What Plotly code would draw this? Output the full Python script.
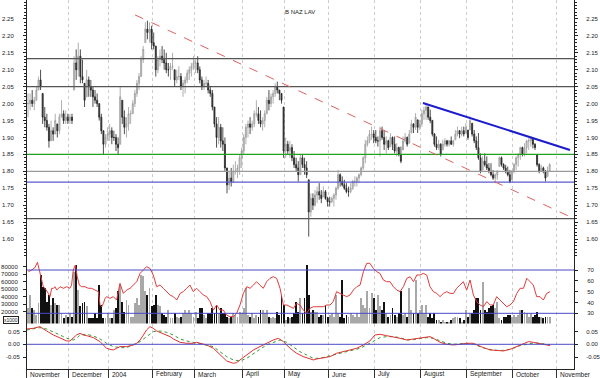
import numpy as np
import pandas as pd
import plotly.graph_objects as go

# ---------------- data ----------------
title = "B NAZ LAV"
closed_days = ["2003-12-24", "2003-12-25", "2003-12-26", "2003-12-31",
               "2004-01-01", "2004-04-09", "2004-04-12"]
month_labels = ["November", "December", "2004", "February", "March", "April", "May",
                "June", "July", "August", "September", "October", "November"]

highs = [2.03, 2.03, 2.04, 2.02, 2.05, 2.08, 2.10, 2.03, 1.99, 1.97,
         1.94, 1.95, 1.93, 1.97, 1.94, 1.97, 2.01, 1.98, 1.98, 1.97,
         1.97, 1.97, 2.14, 2.16, 2.18, 2.16, 2.13, 2.06, 2.10, 2.08,
         2.07, 2.05, 2.04, 2.03, 2.00, 1.97, 1.92, 1.91, 1.93, 1.94,
         1.93, 1.92, 1.91, 1.90, 2.05, 2.01, 1.98, 1.96, 1.99, 1.98,
         2.01, 2.04, 2.07, 2.09, 2.14, 2.17, 2.24, 2.245, 2.24, 2.23,
         2.21, 2.17, 2.14, 2.16, 2.17, 2.16, 2.15, 2.12, 2.12, 2.15,
         2.10, 2.10, 2.11, 2.09, 2.07, 2.08, 2.10, 2.11, 2.12, 2.14,
         2.13, 2.14, 2.11, 2.08, 2.07, 2.08, 2.07, 2.05, 2.04, 1.99,
         1.96, 1.96, 1.94, 1.93, 1.90, 1.81, 1.80, 1.81, 1.82, 1.83,
         1.82, 1.85, 1.87, 1.91, 1.94, 1.95, 1.96, 1.95, 1.98, 2.01,
         1.99, 1.98, 1.96, 1.98, 2.02, 2.04, 2.03, 2.04, 2.06, 2.065,
         2.04, 2.03, 1.99, 1.90, 1.89, 1.89, 1.88, 1.86, 1.84, 1.83,
         1.85, 1.85, 1.84, 1.83, 1.775, 1.735, 1.735, 1.745, 1.755, 1.765,
         1.745, 1.755, 1.745, 1.725, 1.725, 1.725, 1.735, 1.755, 1.804, 1.794,
         1.785, 1.775, 1.765, 1.755, 1.765, 1.775, 1.785, 1.785, 1.794, 1.814,
         1.844, 1.893, 1.903, 1.922, 1.932, 1.922, 1.922, 1.903, 1.932, 1.932,
         1.922, 1.903, 1.893, 1.913, 1.903, 1.903, 1.883, 1.873, 1.873, 1.903,
         1.913, 1.903, 1.922, 1.952, 1.942, 1.972, 1.952, 1.952, 1.982, 1.991,
         2.001, 1.991, 1.982, 1.952, 1.913, 1.903, 1.893, 1.883, 1.893, 1.898,
         1.893, 1.893, 1.903, 1.893, 1.922, 1.932, 1.922, 1.932, 1.932, 1.942,
         1.922, 1.962, 1.942, 1.922, 1.903, 1.913, 1.853, 1.844, 1.853, 1.844,
         1.824, 1.824, 1.804, 1.794, 1.804, 1.844, 1.844, 1.824, 1.819, 1.814,
         1.804, 1.804, 1.824, 1.844, 1.853, 1.873, 1.873, 1.883, 1.893, 1.898,
         1.903, 1.898, 1.883, 1.849, 1.824, 1.819, 1.814, 1.804, 1.814, 1.824]

lows = [1.96, 1.98, 1.99, 1.98, 2.01, 2.04, 2.04, 1.94, 1.93, 1.92,
        1.87, 1.89, 1.89, 1.91, 1.90, 1.91, 1.96, 1.94, 1.94, 1.94,
        1.94, 1.94, 2.04, 2.07, 2.08, 2.06, 2.06, 1.99, 2.02, 2.02,
        2.02, 1.99, 2.00, 1.99, 1.95, 1.91, 1.85, 1.87, 1.89, 1.89,
        1.88, 1.89, 1.86, 1.85, 1.88, 1.94, 1.91, 1.90, 1.92, 1.94,
        1.97, 1.99, 2.02, 2.04, 2.08, 2.12, 2.18, 2.19, 2.18, 2.16,
        2.16, 2.08, 2.09, 2.11, 2.12, 2.10, 2.09, 2.08, 2.07, 2.10,
        2.05, 2.06, 2.07, 2.04, 2.02, 2.03, 2.06, 2.07, 2.08, 2.10,
        2.09, 2.09, 2.06, 2.04, 2.04, 2.05, 2.03, 2.02, 1.98, 1.93,
        1.87, 1.88, 1.87, 1.86, 1.80, 1.735, 1.745, 1.755, 1.765, 1.79,
        1.78, 1.79, 1.81, 1.85, 1.88, 1.90, 1.91, 1.92, 1.93, 1.96,
        1.94, 1.93, 1.92, 1.93, 1.97, 1.98, 1.99, 2.00, 2.02, 2.03,
        2.01, 2.00, 1.84, 1.84, 1.85, 1.84, 1.83, 1.81, 1.80, 1.77,
        1.79, 1.81, 1.79, 1.78, 1.607, 1.666, 1.686, 1.696, 1.706, 1.716,
        1.706, 1.725, 1.716, 1.696, 1.696, 1.706, 1.696, 1.716, 1.745, 1.755,
        1.755, 1.745, 1.735, 1.725, 1.735, 1.745, 1.755, 1.755, 1.765, 1.785,
        1.804, 1.824, 1.873, 1.883, 1.893, 1.883, 1.883, 1.873, 1.844, 1.893,
        1.863, 1.853, 1.863, 1.873, 1.863, 1.853, 1.844, 1.844, 1.824, 1.863,
        1.883, 1.873, 1.883, 1.913, 1.913, 1.922, 1.913, 1.922, 1.932, 1.952,
        1.952, 1.952, 1.942, 1.903, 1.873, 1.863, 1.863, 1.844, 1.863, 1.873,
        1.873, 1.873, 1.878, 1.873, 1.893, 1.903, 1.898, 1.903, 1.903, 1.913,
        1.893, 1.922, 1.903, 1.883, 1.863, 1.834, 1.794, 1.804, 1.814, 1.804,
        1.794, 1.785, 1.775, 1.765, 1.775, 1.814, 1.814, 1.804, 1.794, 1.785,
        1.765, 1.775, 1.794, 1.804, 1.814, 1.834, 1.844, 1.844, 1.853, 1.863,
        1.873, 1.868, 1.863, 1.814, 1.794, 1.799, 1.794, 1.770, 1.785, 1.799]

closes = [2.00, 2.01, 2.00, 2.01, 2.04, 2.07, 2.05, 1.96, 1.95, 1.93,
          1.89, 1.92, 1.91, 1.95, 1.92, 1.96, 1.97, 1.95, 1.96, 1.95,
          1.96, 1.95, 2.12, 2.10, 2.14, 2.08, 2.07, 2.01, 2.07, 2.05,
          2.04, 2.02, 2.01, 2.00, 1.96, 1.92, 1.88, 1.90, 1.91, 1.92,
          1.90, 1.90, 1.88, 1.87, 2.02, 1.96, 1.93, 1.94, 1.97, 1.97,
          2.00, 2.03, 2.06, 2.08, 2.13, 2.16, 2.22, 2.21, 2.22, 2.18,
          2.17, 2.10, 2.13, 2.14, 2.13, 2.12, 2.10, 2.10, 2.11, 2.11,
          2.07, 2.08, 2.08, 2.05, 2.06, 2.07, 2.09, 2.10, 2.11, 2.12,
          2.12, 2.10, 2.07, 2.05, 2.06, 2.06, 2.04, 2.03, 1.99, 1.94,
          1.90, 1.93, 1.89, 1.88, 1.81, 1.76, 1.78, 1.77, 1.80, 1.80,
          1.81, 1.84, 1.86, 1.90, 1.93, 1.94, 1.93, 1.94, 1.97, 1.97,
          1.95, 1.94, 1.95, 1.97, 2.01, 2.00, 2.02, 2.03, 2.05, 2.04,
          2.03, 2.01, 1.86, 1.88, 1.86, 1.87, 1.84, 1.82, 1.81, 1.79,
          1.84, 1.82, 1.81, 1.79, 1.68, 1.72, 1.70, 1.73, 1.74, 1.73,
          1.72, 1.74, 1.72, 1.71, 1.71, 1.72, 1.73, 1.75, 1.79, 1.77,
          1.76, 1.75, 1.74, 1.74, 1.75, 1.77, 1.77, 1.78, 1.79, 1.81,
          1.84, 1.88, 1.89, 1.91, 1.91, 1.90, 1.89, 1.89, 1.92, 1.90,
          1.88, 1.89, 1.87, 1.90, 1.88, 1.86, 1.87, 1.85, 1.83, 1.89,
          1.90, 1.88, 1.91, 1.94, 1.93, 1.96, 1.93, 1.94, 1.97, 1.98,
          1.99, 1.96, 1.95, 1.91, 1.88, 1.87, 1.88, 1.85, 1.88, 1.89,
          1.88, 1.89, 1.88, 1.89, 1.91, 1.92, 1.91, 1.92, 1.91, 1.93,
          1.90, 1.95, 1.91, 1.89, 1.87, 1.84, 1.80, 1.83, 1.82, 1.81,
          1.80, 1.79, 1.78, 1.79, 1.80, 1.84, 1.82, 1.81, 1.80, 1.79,
          1.77, 1.80, 1.82, 1.84, 1.85, 1.87, 1.85, 1.87, 1.89, 1.89,
          1.90, 1.88, 1.87, 1.82, 1.80, 1.81, 1.80, 1.78, 1.80, 1.82]

volumes = [24500, 42000, 24500, 22000, 15600, 31000, 69000, 53000, 51000, 33000,
           42000, 29000, 38000, 31000, 29000, 29000, 18000, 11000, 16000, 13000,
           18000, 13000, 73000, 82000, 49000, 27000, 31000, 33000, 27000, 11000,
           11000, 11000, 18000, 11000, 56000, 29000, 11000, 11000, 18000, 11000,
           11000, 22000, 24500, 47000, 56000, 33000, 20000, 35000, 29000, 13000,
           13000, 31000, 38000, 29000, 69000, 67000, 47000, 42000, 51000, 27000,
           29000, 42000, 29000, 27000, 18000, 16000, 13000, 22000, 11000, 11000,
           18000, 13000, 11000, 13000, 18000, 22000, 18000, 22000, 18000, 13000,
           20000, 11000, 24500, 24500, 16000, 11000, 18000, 18000, 24500, 18000,
           29000, 18000, 24500, 18000, 18000, 13000, 11000, 13000, 18000, 16000,
           13000, 20000, 18000, 24500, 51000, 16000, 13000, 18000, 11000, 16000,
           13000, 22000, 22000, 18000, 22000, 13000, 11000, 13000, 11000, 20000,
           16000, 42000, 29000, 9000, 13000, 11000, 13000, 18000, 33000, 20000,
           38000, 18000, 38000, 82000, 42000, 20000, 22000, 20000, 20000, 13000,
           16000, 16000, 29000, 13000, 16000, 18000, 13000, 42000, 18000, 13000,
           62000, 11000, 16000, 13000, 18000, 16000, 13000, 18000, 13000, 38000,
           29000, 24500, 47000, 24500, 45000, 38000, 22000, 42000, 27000, 22000,
           33000, 18000, 13000, 16000, 24500, 16000, 13000, 18000, 47000, 16000,
           18000, 13000, 51000, 22000, 18000, 62000, 18000, 22000, 29000, 18000,
           29000, 13000, 18000, 11000, 18000, 9000, 9000, 6700, 9000, 6700,
           6700, 6700, 9000, 11000, 13000, 13000, 11000, 6700, 9000, 22000,
           13000, 18000, 18000, 22000, 38000, 38000, 22000, 60000, 22000, 20000,
           24500, 27000, 29000, 24500, 33000, 11000, 9000, 13000, 13000, 16000,
           16000, 13000, 16000, 13000, 16000, 22000, 22000, 20000, 18000, 13000,
           18000, 13000, 16000, 20000, 13000, 13000, 11000, 13000, 13000, 13000]

rsi_x = [0.2, 1.8, 3.3, 4.5, 5.4, 6.5, 7.3, 8.1, 8.9, 9.7, 10.5, 11.3, 12.1, 12.9, 13.7,
         15.3, 16.9, 18.5, 20.0, 20.8, 21.6, 22.6, 23.5, 24.5, 25.6, 27.2, 28.8, 30.4, 32.0,
         33.6, 34.4, 35.2, 36.0, 36.8, 37.5, 39.1, 40.7, 42.3, 43.1, 43.9, 45.5, 47.1, 48.7,
         50.3, 51.9, 53.5, 55.1, 56.6, 58.2, 59.8, 61.4, 63.0, 64.6, 66.2, 67.8, 69.4, 71.0,
         72.6, 74.1, 75.7, 77.3, 78.9, 80.5,
         82.1, 83.7, 85.3, 86.9, 88.5, 90.1, 91.6, 93.2, 94.8, 96.4, 98.0, 99.6, 101.2, 102.8,
         104.4, 106.0, 107.6, 109.1, 110.7, 112.3, 113.9, 115.5, 117.1, 118.7, 120.3, 121.9,
         123.5, 125.1, 126.7, 128.2, 129.8, 131.4, 133.0, 134.6, 136.2, 137.8, 139.4, 141.0,
         142.6, 144.2, 145.7, 147.3, 148.9, 150.5, 152.1, 153.7, 155.3, 156.9, 158.5, 160.1,
         161.7, 163.2, 164.8, 166.4, 168.0, 169.6, 171.2, 172.8, 174.4, 176.0, 177.6,
         179.2, 180.8, 182.4, 184.0, 185.6, 187.1, 188.7, 190.3, 191.9, 193.5, 195.1, 196.7,
         198.3, 199.9, 201.5, 203.1, 204.6, 206.2, 207.8, 209.4, 211.0, 212.6, 214.2, 215.8,
         217.4, 219.0, 220.6, 222.1, 223.7, 225.3, 226.9, 228.5, 230.1, 231.7, 233.3, 234.9,
         236.5, 238.1, 239.7, 241.2, 242.8, 244.4, 246.0, 247.6, 249.2]
rsi_y = [68.5, 70.0, 72.2, 77.1, 70.0, 59.2, 54.6, 53.1, 50.0, 48.4, 45.4, 53.1, 53.1, 54.6, 51.5,
         54.6, 53.1, 54.6, 53.1, 56.1, 70.0, 74.6, 63.8, 56.1, 54.6, 54.6, 53.1, 53.1, 51.5,
         50.0, 37.7, 36.1, 39.2, 43.8, 45.4, 43.8, 45.4, 42.3, 50.0, 57.7, 48.4, 51.5, 53.1,
         56.1, 59.2, 66.9, 70.0, 73.1, 71.5, 65.4, 54.6, 56.1, 53.1, 50.0, 46.9, 45.4, 42.3,
         48.4, 50.0, 53.1, 56.1, 50.0, 53.1,
         50.0, 46.9, 45.4, 40.8, 33.0, 37.7, 33.0, 33.0, 28.4, 26.9, 26.9, 30.0, 37.7, 48.4,
         54.6, 53.1, 56.1, 59.2, 56.1, 53.1, 59.2, 62.3, 63.8, 62.3, 53.1, 37.7,
         37.7, 36.1, 34.6, 39.2, 37.7, 33.0, 30.0, 34.6, 36.1, 36.1, 36.1, 36.1,
         37.7, 37.7, 40.8, 50.0, 48.4, 46.9, 45.4, 46.9, 51.5, 54.6, 56.1, 68.5,
         76.2, 76.2, 71.5, 68.5, 66.9, 60.8, 59.2, 59.2, 54.6, 51.5, 50.0,
         54.6, 62.3, 63.8, 59.2, 65.4, 65.4, 66.9, 65.4, 54.6, 50.0, 48.4, 45.4,
         48.4, 50.0, 48.4, 48.4, 53.1, 56.1, 59.2, 51.5, 60.8, 46.9, 40.8, 37.7,
         36.1, 40.8, 37.7, 37.7, 45.4, 42.3, 39.2, 36.1, 37.7, 40.8, 48.4, 53.1,
         53.1, 62.3, 59.2, 56.1, 45.4, 45.4, 42.3, 48.4, 50.0]

macd_x = [-0.6, 2.5, 5.7, 7.3, 8.9, 12.1, 15.3, 18.5, 20.0, 21.6, 23.2, 24.8, 26.4, 28.0, 31.2,
          34.4, 36.0, 37.5, 39.1, 40.7, 42.3, 43.9, 47.1, 50.3, 51.9, 53.5, 55.1, 56.6, 58.2,
          59.8, 61.4, 63.0, 64.6, 66.2, 67.8, 69.4, 71.0, 72.6, 75.7, 78.9, 80.5,
          82.1, 85.3, 88.5, 91.6, 94.8, 98.0, 99.6, 101.2, 104.4, 107.6, 110.7, 113.9, 117.1,
          119.5, 121.9, 125.1, 128.2, 131.4, 134.6, 136.2, 137.8, 141.0, 144.2, 147.3, 150.5,
          153.7, 156.9, 160.1, 163.2, 165.6, 168.0, 171.2, 174.4, 177.6,
          180.8, 184.0, 187.1, 190.3, 191.9, 193.5, 196.7, 199.9, 203.1, 206.2, 209.4, 212.6,
          214.2, 217.4, 220.6, 223.7, 226.9, 230.1, 233.3, 236.5, 238.9, 241.2, 244.4, 247.6, 249.2]
macd_y = [0.0593, 0.0619, 0.0684, 0.0593, 0.0516, 0.0361, 0.0232, 0.0129, 0.0129, 0.0232,
          0.0361, 0.0426, 0.0361, 0.0335, 0.0258, 0.0103, -0.0026, -0.0155, -0.0194, -0.0219,
          -0.0155, -0.0090, -0.0090, -0.0026, 0.0039, 0.0168, 0.0361, 0.0555, 0.0684, 0.0619,
          0.0516, 0.0464, 0.0426, 0.0361, 0.0297, 0.0206, 0.0129, 0.0077, 0.0039, 0.0039, 0.0077,
          0.0039, -0.0026, -0.0155, -0.0413, -0.0645, -0.0735, -0.0710, -0.0606, -0.0413, -0.0219,
          -0.0090, 0.0039, 0.0168, 0.0232, 0.0103, -0.0155, -0.0348, -0.0477, -0.0581, -0.0606,
          -0.0568, -0.0516, -0.0477, -0.0348, -0.0284, -0.0219, -0.0155, -0.0026, 0.0129, 0.0361,
          0.0387, 0.0335, 0.0297, 0.0232,
          0.0168, 0.0206, 0.0258, 0.0297, 0.0297, 0.0232, 0.0077, 0.0, -0.0026, 0.0, 0.0039,
          0.0039, -0.0026, -0.0129, -0.0219, -0.0245, -0.0258, -0.0194, -0.0090, 0.0039, 0.0103,
          0.0077, 0.0039, -0.0026, -0.0052]

signal_x = [-0.6, 5.7, 8.9, 12.1, 15.3, 18.5, 21.6, 23.2, 24.8, 28.0, 31.2, 34.4, 37.5, 40.7,
            43.9, 47.1, 50.3, 53.5, 56.6, 59.8, 63.0, 66.2, 69.4, 72.6, 75.7, 78.9,
            82.1, 88.5, 91.6, 94.8, 98.0, 101.2, 104.4, 107.6, 110.7, 113.9, 117.1, 120.3,
            123.5, 126.7, 129.8, 133.0, 136.2, 139.4, 142.6, 145.7, 148.9, 152.1, 155.3, 158.5,
            161.7, 164.8, 168.0, 171.2, 174.4, 177.6,
            180.8, 184.0, 187.1, 190.3, 193.5, 196.7, 199.9, 203.1, 206.2, 209.4, 212.6, 215.8,
            219.0, 222.1, 225.3, 228.5, 231.7, 234.9, 238.1, 241.2, 244.4, 247.6, 249.2]
signal_y = [0.0555, 0.0645, 0.0593, 0.0490, 0.0361, 0.0232, 0.0168, 0.0232, 0.0361, 0.0387,
            0.0323, 0.0206, 0.0039, -0.0090, -0.0129, -0.0129, -0.0026, 0.0103, 0.0297, 0.0490,
            0.0516, 0.0464, 0.0361, 0.0206, 0.0129, 0.0077,
            0.0039, -0.0090, -0.0284, -0.0477, -0.0606, -0.0645, -0.0542, -0.0348, -0.0194,
            -0.0026, 0.0077, 0.0168, 0.0077, -0.0090, -0.0284, -0.0413, -0.0542, -0.0542,
            -0.0477, -0.0413, -0.0348, -0.0284, -0.0219, -0.0155, -0.0026, 0.0103, 0.0258,
            0.0297, 0.0297, 0.0258,
            0.0168, 0.0181, 0.0232, 0.0258, 0.0232, 0.0129, 0.0039, 0.0, 0.0026, 0.0039, 0.0,
            -0.0090, -0.0181, -0.0219, -0.0245, -0.0219, -0.0155, -0.0052, 0.0, 0.0052, 0.0039,
            0.0, -0.0026]

price_levels = [2.133, 2.05, 1.85, 1.80, 1.768, 1.66]
level_colors = ["#555555", "#555555", "#22a022", "#9a9a9a", "#5a5ad0", "#555555"]
red_trend_x = [51.1, 260.1]
red_trend_y = [2.262, 1.662]
blue_trend_x = [188.5, 258.7]
blue_trend_y = [2.002, 1.863]
rsi_levels = [70, 30]

# ---------------- build ----------------
cal = pd.bdate_range("2003-11-03", "2004-11-30")
cal = cal[~cal.isin(pd.to_datetime(closed_days))]
idx_series = pd.Series(np.arange(len(cal)), index=cal)
month_first = idx_series.groupby([cal.year, cal.month]).min().values
grid_pos = [m - 0.5 for m in month_first]

n = len(highs)
xs = np.arange(n)
opens = [min(max(c, l), h) for c, l, h in zip([closes[0]] + closes[:-1], lows, highs)]
vol_colors = ["#111111" if c < o else "#a8a8a8" for c, o in zip(closes, opens)]

W, H = 600, 378
L_px, R_px = 27, 574
x_range = [-0.477, 260.62]
dom_x = [L_px / W, R_px / W]


def ydom(top_px, bot_px):
    return [(H - bot_px) / H, (H - top_px) / H]


FONT = "Liberation Sans, Arial, sans-serif"
TF = dict(family=FONT, size=6, color="#222222")

fig = go.Figure()
fig.add_trace(go.Candlestick(
    x=xs, open=opens, high=highs, low=lows, close=closes,
    xaxis="x", yaxis="y", whiskerwidth=0,
    increasing=dict(line=dict(color="#9a9a9a", width=0.8), fillcolor="#d0d0d0"),
    decreasing=dict(line=dict(color="#222222", width=0.8), fillcolor="#444444"),
    showlegend=False, hoverinfo="skip"))
fig.add_trace(go.Bar(x=xs, y=volumes, xaxis="x2", yaxis="y3", width=0.42,
                     marker=dict(color=vol_colors, line=dict(width=0)), showlegend=False))
fig.add_trace(go.Scatter(x=rsi_x, y=rsi_y, xaxis="x2", yaxis="y4", mode="lines",
                         line=dict(color="#e03c3c", width=1), showlegend=False))
fig.add_trace(go.Scatter(x=signal_x, y=signal_y, xaxis="x3", yaxis="y5", mode="lines",
                         line=dict(color="#2f9a2f", width=1, dash="dot"), showlegend=False))
fig.add_trace(go.Scatter(x=macd_x, y=macd_y, xaxis="x3", yaxis="y5", mode="lines",
                         line=dict(color="#e03030", width=1), showlegend=False))

xcommon = dict(domain=dom_x, range=x_range, showgrid=True, gridcolor="#cccccc",
               griddash="dot", gridwidth=1, tickmode="array", tickvals=grid_pos,
               showticklabels=False, zeroline=False, showline=False, ticks="")

shapes = []
for lv, col in zip(price_levels, level_colors):
    shapes.append(dict(type="line", xref="x domain", yref="y", x0=0, x1=1, y0=lv, y1=lv,
                       line=dict(color=col, width=1.2)))
shapes.append(dict(type="line", xref="x", yref="y", x0=red_trend_x[0], x1=red_trend_x[1],
                   y0=red_trend_y[0], y1=red_trend_y[1],
                   line=dict(color="#e06060", width=1, dash="dash")))
shapes.append(dict(type="line", xref="x", yref="y", x0=blue_trend_x[0], x1=blue_trend_x[1],
                   y0=blue_trend_y[0], y1=blue_trend_y[1],
                   line=dict(color="#1c1ccc", width=2)))
for lv in rsi_levels:
    shapes.append(dict(type="line", xref="x2 domain", yref="y4", x0=0, x1=1, y0=lv, y1=lv,
                       line=dict(color="#4a4ac8", width=1)))
shapes.append(dict(type="line", xref="x3 domain", yref="y5", x0=0, x1=1, y0=0, y1=0,
                   line=dict(color="#4a4ac8", width=1)))

price_ticks = [round(1.60 + 0.05 * k, 2) for k in range(14)]
yprice = dict(domain=ydom(0, 258), range=[1.544, 2.306], tickvals=price_ticks,
              ticktext=["%.2f" % v for v in price_ticks], ticks="outside", ticklen=3,
              tickcolor="#222", showline=True, linecolor="#222", linewidth=1,
              showgrid=False, zeroline=False, tickfont=TF,
              minor=dict(dtick=0.01, ticks="outside", ticklen=2, tickcolor="#222"))

vol_ticks = [20000, 30000, 40000, 50000, 60000, 70000, 80000]
rsi_ticks = [30, 40, 50, 60, 70]
macd_ticks = [-0.05, 0.0, 0.05]

annotations = [dict(text=title, x=0.5, y=1 - 7 / H, xref="paper", yref="paper",
                    showarrow=False, font=dict(family=FONT, size=6, color="#222"))]
for pos, lab in zip(grid_pos, month_labels):
    annotations.append(dict(text=lab, x=pos + 0.6, y=4 / H, xref="x3", yref="paper",
                            xanchor="left", yanchor="middle", showarrow=False,
                            font=dict(family=FONT, size=6.5, color="#222")))
annotations.append(dict(text="x1000", x=3 / W, y=(H - 319.5) / H, xref="paper", yref="paper",
                        xanchor="left", yanchor="middle", showarrow=False,
                        bordercolor="#222", borderwidth=1, borderpad=0,
                        bgcolor="white", font=dict(family=FONT, size=5, color="#222")))

fig.update_layout(
    width=W, height=H, margin=dict(l=0, r=0, t=0, b=0),
    paper_bgcolor="white", plot_bgcolor="white", showlegend=False,
    bargap=0,
    xaxis=dict(xcommon, anchor="y", rangeslider=dict(visible=False)),
    xaxis2=dict(xcommon, anchor="y3", matches="x"),
    xaxis3=dict(xcommon, anchor="y5", matches="x", ticks="outside", ticklen=8,
                tickcolor="#333", showline=True, linecolor="#222"),
    yaxis=dict(yprice, anchor="x", side="left", ticklabelstandoff=8),
    yaxis2=dict(yprice, anchor="x", overlaying="y", side="right", ticklabelstandoff=7),
    yaxis3=dict(domain=ydom(258, 323.5), range=[4270, 91600], tickvals=vol_ticks,
                ticktext=[str(v) for v in vol_ticks],
                ticks="outside", ticklen=3, tickcolor="#222", showline=True, linecolor="#222",
                showgrid=False, zeroline=False, tickfont=TF, anchor="x2", side="left",
                ticklabelstandoff=4),
    yaxis4=dict(range=[20.6, 81.1], tickvals=rsi_ticks, overlaying="y3", anchor="x2",
                side="right", ticks="outside", ticklen=3, tickcolor="#222", showline=True,
                linecolor="#222", showgrid=False, zeroline=False, tickfont=TF,
                ticklabelstandoff=8),
    yaxis5=dict(domain=ydom(323.5, 369), range=[-0.0957, 0.0806], tickvals=macd_ticks,
                ticktext=["-0.05", "0.00", "0.05"], ticks="outside", ticklen=3,
                tickcolor="#222", showline=True, linecolor="#222", showgrid=False,
                zeroline=False, tickfont=TF, anchor="x3", side="left", ticklabelstandoff=2),
    yaxis6=dict(range=[-0.0957, 0.0806], tickvals=macd_ticks,
                ticktext=["-0.05", "0.00", "0.05"], overlaying="y5", anchor="x3",
                side="right", ticks="outside", ticklen=3, tickcolor="#222", showline=True,
                linecolor="#222", showgrid=False, zeroline=False, tickfont=TF,
                ticklabelstandoff=7),
    shapes=shapes, annotations=annotations,
)
# invisible traces so that the right-side axes are drawn
fig.add_trace(go.Scatter(x=[None], y=[None], xaxis="x", yaxis="y2", showlegend=False))
fig.add_trace(go.Scatter(x=[None], y=[None], xaxis="x3", yaxis="y6", showlegend=False))

fig.write_html("out.html", config={"displayModeBar": False},
               post_script="document.body.style.margin='0';document.body.style.padding='0';")
